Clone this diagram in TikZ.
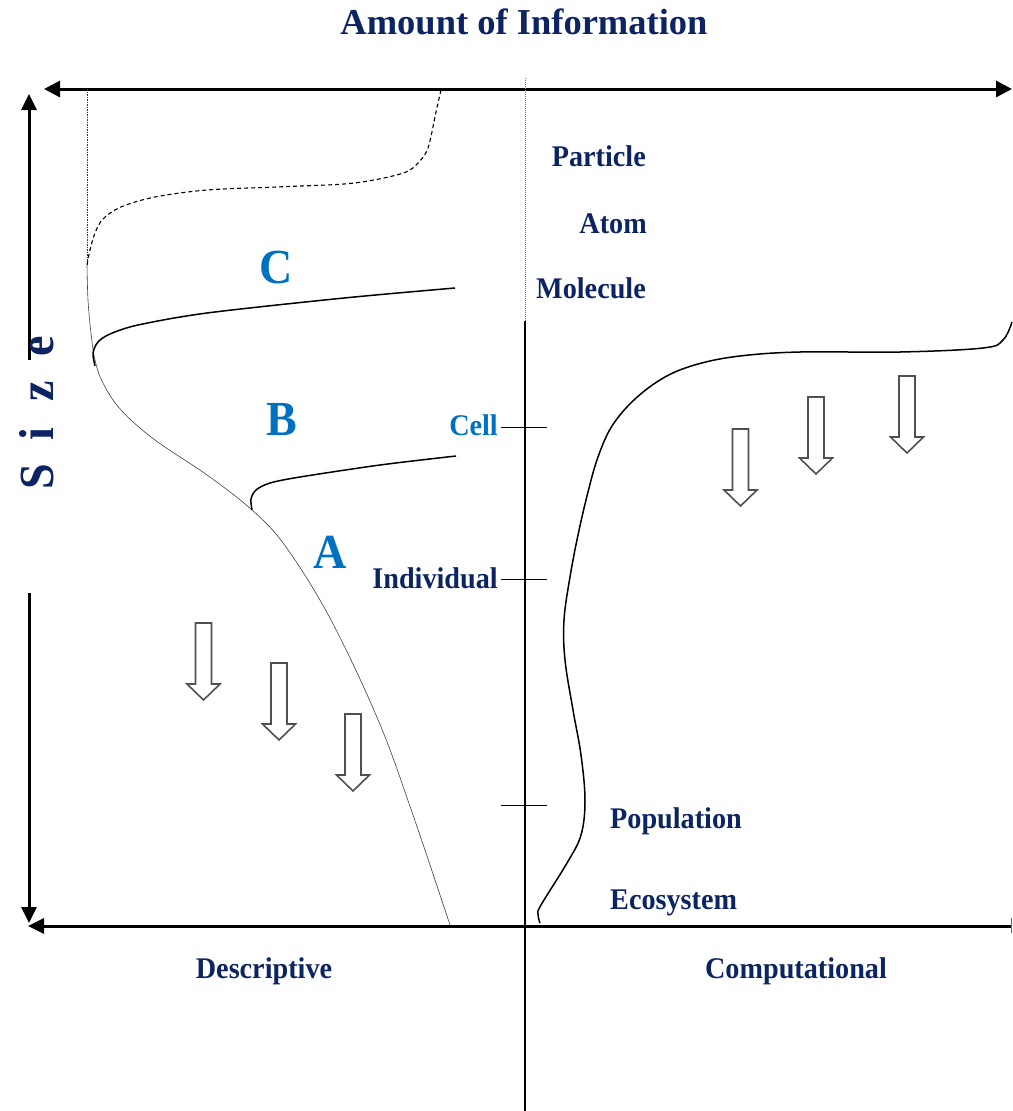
\documentclass[tikz,border=0pt]{standalone}
\usepackage{fontspec}
\setmainfont{Liberation Serif}[FakeStretch=0.94]
\newfontfamily\titlefont{Liberation Serif}
\usetikzlibrary{arrows.meta}
\definecolor{navy}{RGB}{13,36,99}
\definecolor{lblue}{RGB}{0,112,192}
\definecolor{arrowgray}{RGB}{80,80,80}
\begin{document}
\begin{tikzpicture}[x=1pt,y=-1pt,
  axis/.style={line width=3pt},
  tipA/.style={-{Triangle[length=16pt,width=15pt]}},
  lbl/.style={text=navy,font=\bfseries\fontsize{30}{32}\selectfont,inner sep=0pt},
  zone/.style={text=lblue,font=\bfseries\fontsize{49}{50}\selectfont,inner sep=0pt},
  curve/.style={line width=1.5pt},
  thincurve/.style={line width=0.6pt,draw=black!75},
  tickmark/.style={line width=0.9pt},
  blockdown/.pic={\draw[line width=1.6pt,draw=arrowgray,fill=white,line join=miter]
     (-8,0) -- (8,0) -- (8,61) -- (16.5,61) -- (0,77) -- (-16.5,61) -- (-8,61) -- cycle;}
]
\useasboundingbox (0,0) rectangle (1012,1111);

% title
\node[text=navy,font=\titlefont\bfseries\fontsize{36.5}{38}\selectfont,anchor=base,inner sep=0pt] (title) at (524,34) {Amount of Information};

% axes coordinates
\coordinate (topL) at (44,89);
\coordinate (topR) at (1012,89);
\coordinate (botR) at (1011,926);
\coordinate (botL) at (28,926);
\coordinate (vUpS) at (29,360);
\coordinate (vUpE) at (29,94);
\coordinate (vDnS) at (29,593);
\coordinate (vDnE) at (29,923);

\draw[axis,{Triangle[length=16pt,width=16pt]}-{Triangle[length=16pt,width=16pt]}] (topL) -- (topR);
\draw[axis,tipA] (vUpS) -- (vUpE);
\draw[axis,tipA] (vDnS) -- (vDnE);
\draw[axis,tipA] (botR) -- (botL);
\coordinate (endT1) at (1011,918);
\coordinate (endT2) at (1011,933);
\draw[line width=0.8pt,black!60] (endT1) -- (endT2);

% centre line
\coordinate (cTop) at (525,78);
\coordinate (cMid) at (525,321);
\coordinate (cBot) at (525,1111);
\draw[black!55,line width=0.9pt,dash pattern=on 1pt off 1pt] (cTop) -- (cMid);
\draw[line width=1.3pt] (cMid) -- (cBot);

% left dotted line
\coordinate (lTop) at (87,89);
\coordinate (lBot) at (87,265);
\draw[black!80,line width=0.8pt,dash pattern=on 1.5pt off 1pt] (lTop) -- (lBot);

% ticks
\foreach \yy/\nm in {427/tc,579/ti,805/tp}{
  \coordinate (\nm a) at (501,\yy);
  \coordinate (\nm b) at (547,\yy);
  \draw[tickmark] (\nm a) -- (\nm b);
}

% size label
\node[rotate=90,anchor=base west,text=navy,font=\bfseries\fontsize{49}{50}\selectfont,inner sep=0pt] (size) at (53,490) {S\hspace{24pt}i\hspace{26pt}z\hspace{24pt}e};

% level labels
\node[lbl,anchor=base east] (particle) at (646,166) {Particle};
\node[lbl,anchor=base east] (atom) at (647,233) {Atom};
\node[lbl,anchor=base east] (molecule) at (646,298) {Molecule};
\node[lbl,anchor=base east,text=lblue] (cell) at (498,435) {Cell};
\node[lbl,anchor=base east] (individual) at (498,588) {Individual};
\node[lbl,anchor=base west] (population) at (610,828) {Population};
\node[lbl,anchor=base west] (ecosystem) at (610,909) {Ecosystem};
\node[lbl,anchor=base] (descr) at (264,978) {Descriptive};
\node[lbl,anchor=base] (comput) at (796,978) {Computational};

% zone letters
\node[zone,anchor=base] (zoneC) at (276,283) {C};
\node[zone,anchor=base] (zoneB) at (282,435) {B};
\node[zone,anchor=base] (zoneA) at (330,568) {A};

% dashed curve
\draw[line width=1.1pt,dash pattern=on 4pt off 3pt] plot[smooth,tension=0.55] coordinates
 {(441,90) (436,112) (428,148) (418,163) (406,172) (379,179) (344,184) (276,187) (207,190) (155,197) (121,207) (103,219) (95,233) (90,250) (87,265)};

% boundary curve
\draw[thincurve] plot[smooth,tension=0.6] coordinates
 {(87,265) (88,300) (91,333) (95,360) (103,383) (121,410) (155,440) (207,475) (252,510) (286,547) (331,620) (379,722) (413,815) (450,925)};

% C curve
\draw[curve] plot[smooth,tension=0.5] coordinates
 {(95,366) (93,353) (98,342) (110,334) (138,325) (207,313) (344,298) (455,288)};

% B curve
\draw[curve] plot[smooth,tension=0.5] coordinates
 {(252,510) (251,499) (256,490) (270,483) (300,477) (380,465) (456,456)};

% right curve
\draw[curve] plot[smooth,tension=0.6] coordinates
 {(1012,322) (1003,340) (983,348) (900,352) (800,352) (740,356) (698,364) (665,377) (635,399) (612,426) (598,457) (588,492) (578,535) (570,577) (564,620) (565,660) (573,710) (581,755) (585,800) (581,835) (567,863) (541,905) (538,914) (540,923)};

% block arrows
\pic (ba1) at (203.5,623) {blockdown};
\pic (ba2) at (279,663) {blockdown};
\pic (ba3) at (353,714) {blockdown};
\pic (ba4) at (740.5,429) {blockdown};
\pic (ba5) at (816,397) {blockdown};
\pic (ba6) at (907,376) {blockdown};
\end{tikzpicture}
\end{document}
